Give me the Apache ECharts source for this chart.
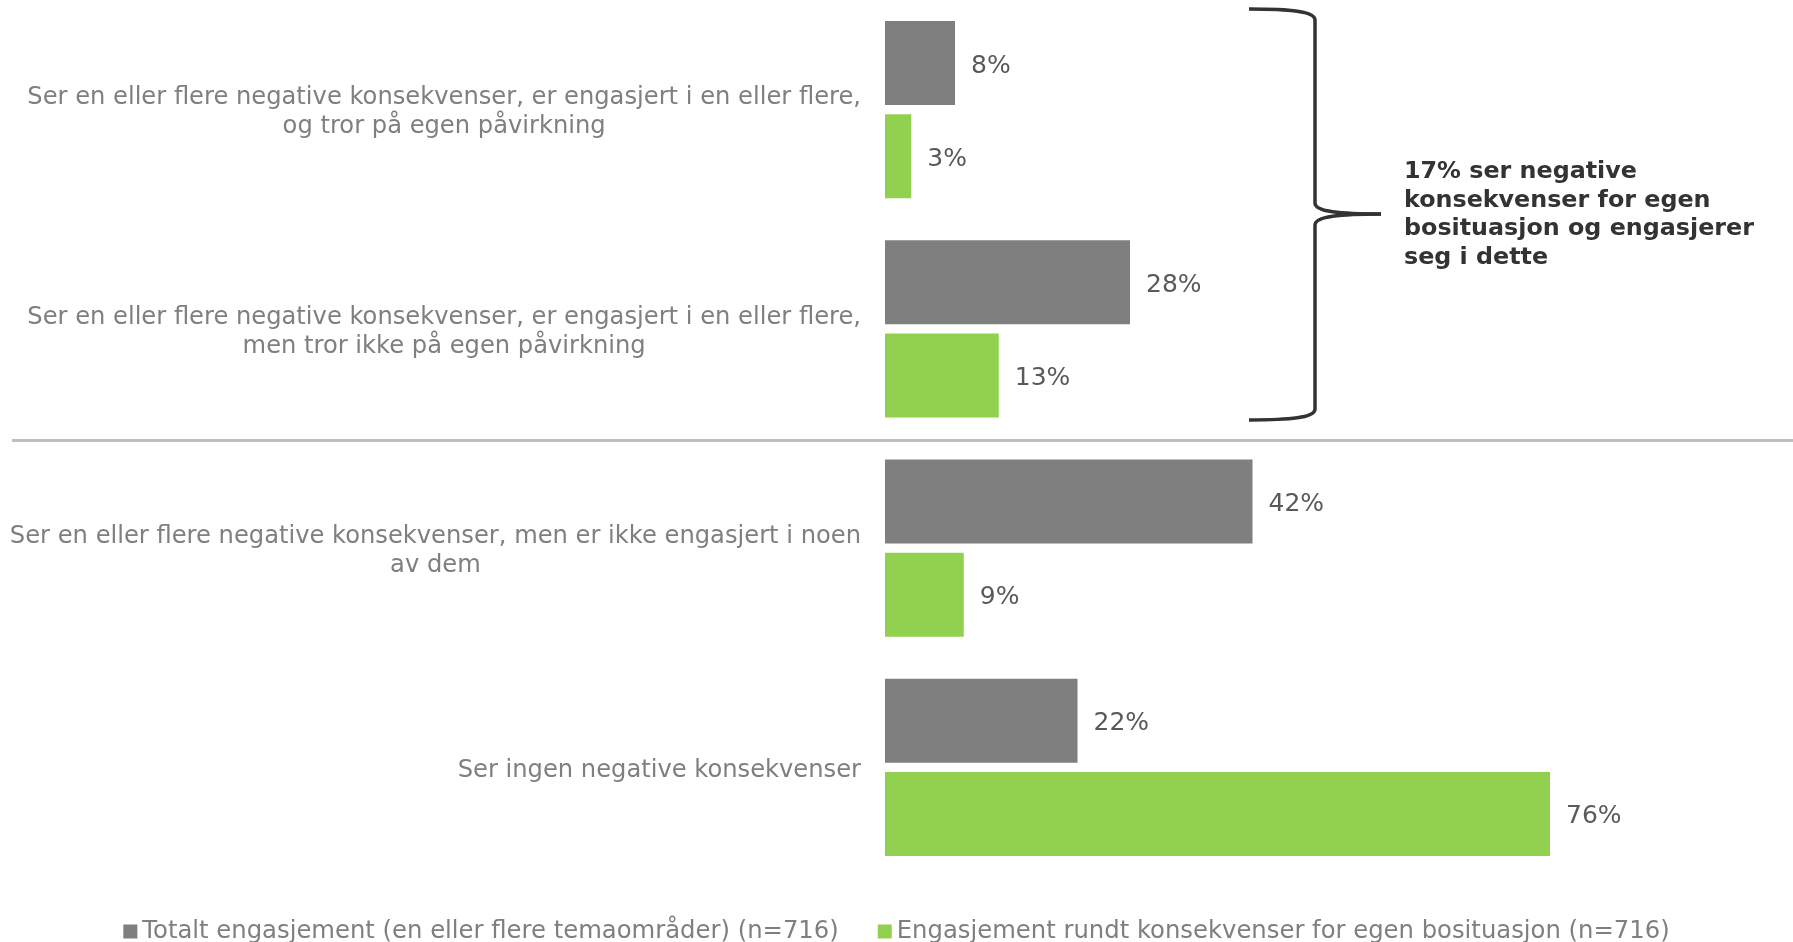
<!DOCTYPE html>
<html>
<head>
<meta charset="utf-8">
<script src="https://cdn.jsdelivr.net/npm/echarts@6/dist/echarts.min.js"></script>
<style>
html,body{margin:0;padding:0;background:#fff;}
#chart{width:1793px;height:942px;}
</style>
</head>
<body>
<div id="chart"></div>
<script>
const categories = [
  "Ser en eller flere negative konsekvenser, er engasjert i en eller flere,\nog tror på egen påvirkning",
  "Ser en eller flere negative konsekvenser, er engasjert i en eller flere,\nmen tror ikke på egen påvirkning",
  "Ser en eller flere negative konsekvenser, men er ikke engasjert i noen\nav dem",
  "Ser ingen negative konsekvenser"
];
const seriesNames = [
  "Totalt engasjement (en eller flere temaområder) (n=716)",
  "Engasjement rundt konsekvenser for egen bosituasjon (n=716)"
];
const totalValues = [8, 28, 42, 22];
const egenValues = [3, 13, 9, 76];
const annotationText = "17% ser negative\nkonsekvenser for egen\nbosituasjon og engasjerer\nseg i dette";

const FONT = "'DejaVu Sans', Verdana, sans-serif";
const chart = echarts.init(document.getElementById('chart'), null, {renderer: 'canvas'});

const valueLabel = {show: true, position: 'right', distance: 16, offset: [0, 3], formatter: '{c}%', fontSize: 25, color: '#595959', fontFamily: FONT};

const option = {
  animation: false,
  backgroundColor: '#ffffff',
  grid: {left: 885, right: 33, top: 0, height: 877, containLabel: false},
  xAxis: {type: 'value', min: 0, max: 100, show: false},
  yAxis: {
    type: 'category',
    data: categories,
    inverse: true,
    axisLine: {show: false},
    axisTick: {show: false},
    splitLine: {show: false},
    axisLabel: {
      margin: 24,
      align: 'right',
      padding: [6, 0, 0, 0],
      formatter: function (v) {
        return v.split('\n').map(function (l) { return '{c|' + l + '}'; }).join('\n');
      },
      rich: {
        c: {align: 'center', fontSize: 24.2, lineHeight: 29, color: '#7f7f7f', fontFamily: FONT}
      }
    }
  },
  legend: {
    data: seriesNames,
    left: 'center',
    top: 914.5,
    icon: 'rect',
    itemWidth: 14,
    itemHeight: 14,
    itemGap: 39,
    textStyle: {fontSize: 24.3, color: '#7f7f7f', fontFamily: FONT}
  },
  series: [
    {
      name: seriesNames[0],
      type: 'bar',
      data: totalValues,
      barWidth: 84,
      barGap: '11%',
      itemStyle: {color: '#7f7f7f'},
      label: valueLabel
    },
    {
      name: seriesNames[1],
      type: 'bar',
      data: egenValues,
      barWidth: 84,
      barGap: '11%',
      itemStyle: {color: '#92d050'},
      label: valueLabel
    }
  ]
};
chart.setOption(option);

// separator between category 2 and 3, placed from the axis scale
const y1 = chart.convertToPixel({yAxisIndex: 0}, categories[1]);
const y2 = chart.convertToPixel({yAxisIndex: 0}, categories[2]);
const sepY = (y1 + y2) / 2 + 2;

const br = {stroke: '#333333', lineWidth: 3.5, fill: null};
chart.setOption({
  graphic: [
    {
      type: 'line',
      shape: {x1: 12, y1: sepY, x2: 1793, y2: sepY},
      style: {stroke: '#bfbfbf', lineWidth: 3},
      silent: true
    },
    {type: 'bezierCurve', silent: true, style: br,
      shape: {x1: 1249, y1: 9, cpx1: 1290, cpy1: 9, cpx2: 1315, cpy2: 11, x2: 1315, y2: 20}},
    {type: 'line', silent: true, style: br, shape: {x1: 1315, y1: 20, x2: 1315, y2: 203}},
    {type: 'bezierCurve', silent: true, style: br,
      shape: {x1: 1315, y1: 203, cpx1: 1315, cpy1: 212, cpx2: 1340, cpy2: 214, x2: 1381, y2: 214}},
    {type: 'bezierCurve', silent: true, style: br,
      shape: {x1: 1381, y1: 214, cpx1: 1340, cpy1: 214, cpx2: 1315, cpy2: 216, x2: 1315, y2: 225}},
    {type: 'line', silent: true, style: br, shape: {x1: 1315, y1: 225, x2: 1315, y2: 409}},
    {type: 'bezierCurve', silent: true, style: br,
      shape: {x1: 1315, y1: 409, cpx1: 1315, cpy1: 418, cpx2: 1290, cpy2: 420, x2: 1249, y2: 420}},
    {
      type: 'text',
      x: 1404,
      y: 215,
      silent: true,
      style: {
        text: annotationText,
        font: 'bold 23.8px ' + FONT,
        fill: '#333333',
        lineHeight: 28.6,
        verticalAlign: 'middle',
        align: 'left'
      }
    }
  ]
});
</script>
</body>
</html>
